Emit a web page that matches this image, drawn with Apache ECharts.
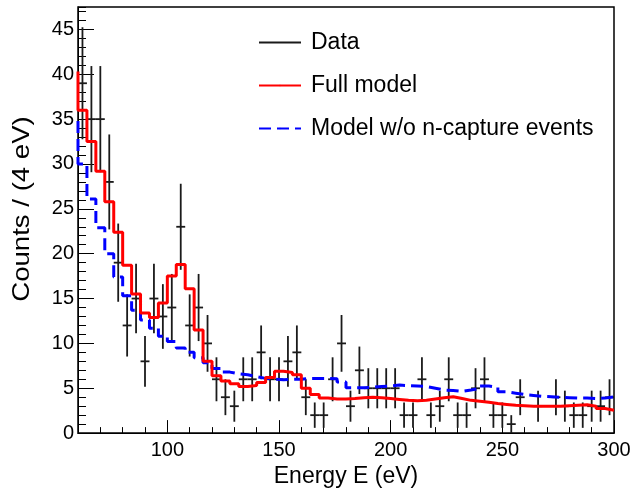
<!DOCTYPE html>
<html><head><meta charset="utf-8">
<script src="https://cdn.jsdelivr.net/npm/echarts@6/dist/echarts.min.js"></script>
<style>html,body{margin:0;padding:0;background:#fff}#c{width:636px;height:493px}</style>
</head><body><div id="c"></div>
<script>
// Energy bin centres (eV), bin width 4 eV
const binWidth = 4;
const binCenters = [62,66,70,74,78,82,86,90,94,98,102,106,110,114,118,122,126,130,134,138,
  142,146,150,154,158,162,166,170,174,178,182,186,190,194,198,202,206,210,214,218,
  222,226,230,234,238,242,246,250,254,258,262,266,270,274,278,282,286,290,294,298];
// Observed counts per bin
const dataCounts = [39,35,35,28,19,12,15,8,15,13,14,23,12,14,10,6,4,3,6,6,
  9,6,6,8,9,4,2,2,6,10,3,7,5,5,5,5,2,2,6,2,
  3,6,2,2,5,6,2,2,1,4,0,3,0,4,3,2,2,3,3,4];
// Full model per bin
const fullModelEdge = 40.3;
const fullModel = [36.0,32.5,29.2,25.8,22.4,18.7,15.5,13.4,12.9,14.5,17.5,18.8,16.1,11.5,8.0,6.4,5.8,5.5,5.2,5.3,
  5.65,6.2,6.9,6.75,6.5,5.0,4.3,3.9,3.8,3.8,3.85,3.95,4.0,3.95,3.85,3.75,3.65,3.6,3.65,3.8,
  3.95,4.05,3.85,3.65,3.55,3.45,3.3,3.2,3.1,3.05,3.0,3.0,3.0,3.0,3.05,3.1,3.15,3.0,2.75,2.55];
// Model without n-capture events per bin
const noCaptureEdge = 34.8;
const noCaptureModel = [30.0,26.1,22.9,20.0,17.4,15.3,13.7,12.6,11.7,10.8,10.2,9.5,9.0,8.4,7.85,7.2,6.8,6.6,6.5,6.3,
  6.1,6.0,5.95,6.0,6.0,6.1,6.1,6.1,6.05,5.7,5.05,5.05,5.1,5.2,5.25,5.35,5.3,5.25,5.2,5.0,
  4.8,4.75,4.65,4.8,5.0,5.25,5.1,4.6,4.45,4.3,4.2,4.1,4.05,4.0,3.95,3.9,3.9,3.85,3.9,4.05];
const xTickLabels = [100,150,200,250,300];
const yTitle = 'Counts / (4 eV)';

function stepPoints(edgeVal, vals){
  const pts = [[binCenters[0]-binWidth/2, edgeVal]];
  for (let i=0;i<vals.length;i++) pts.push([binCenters[i]-binWidth/2, vals[i]]);
  pts.push([binCenters[binCenters.length-1]+binWidth/2, vals[vals.length-1]]);
  return pts;
}
const FONT = "'Liberation Sans', Arial, Helvetica, sans-serif";
const chart = echarts.init(document.getElementById('c'), null, {renderer:'canvas'});
chart.setOption({
  animation:false,
  backgroundColor:'#fff',
  textStyle:{fontFamily:FONT},
  grid:{left:78, right:22, top:7, bottom:55, show:true, borderColor:'#000', borderWidth:1.5, containLabel:false},
  graphic:[{
    type:'text', x:22, y:209, rotation:Math.PI/2, scaleX:1.15,
    style:{text:yTitle, fill:'#000', font:"24px 'Liberation Sans', Arial, sans-serif", align:'center', verticalAlign:'middle'}
  }],
  legend:{
    orient:'vertical', left:253, top:26, itemWidth:42, itemHeight:2, itemGap:20,
    selectedMode:false, textStyle:{fontSize:23, color:'#000', fontFamily:FONT, padding:[0,0,0,5]},
    data:[{name:'Data', icon:'rect'}, 'Full model', 'Model w/o n-capture events']
  },
  xAxis:[{
    type:'value', min:60, max:300, interval:10,
    axisLine:{show:true, lineStyle:{color:'#000', width:1}},
    axisTick:{inside:true, length:6, lineStyle:{color:'#000'}},
    axisLabel:{fontSize:20, color:'#000', margin:7, fontFamily:FONT,
      formatter:v => xTickLabels.indexOf(v)>=0 ? String(v) : ''},
    splitLine:{show:false},
    name:'Energy E (eV)', nameLocation:'middle', nameGap:31,
    nameTextStyle:{fontSize:23, color:'#000', fontFamily:FONT}
  },{
    type:'value', min:60, max:300, position:'bottom',
    axisLine:{show:false},
    axisTick:{inside:true, length:13, customValues:xTickLabels, lineStyle:{color:'#000'}},
    axisLabel:{show:false}, splitLine:{show:false}
  }],
  yAxis:[{
    type:'value', min:0, max:47.5, interval:5, position:'left',
    axisLine:{show:true, lineStyle:{color:'#000', width:1}},
    axisTick:{inside:true, length:16, lineStyle:{color:'#000'}},
    axisLabel:{fontSize:20, color:'#000', margin:4, fontFamily:FONT, showMaxLabel:false,
      formatter:v => (v%5===0 && v<=45) ? String(v) : ''},
    splitLine:{show:false}
  },{
    type:'value', min:0, max:47.5, interval:1, position:'left',
    axisLine:{show:false},
    axisTick:{inside:true, length:8, lineStyle:{color:'#000'}},
    axisLabel:{show:false}, splitLine:{show:false}
  }],
  series:[{
    name:'Data', type:'custom', xAxisIndex:0, yAxisIndex:0, z:2,
    itemStyle:{color:'#1a1a1a'},
    data: binCenters.map((c,i)=>[c, dataCounts[i]]),
    renderItem:function(params, api){
      const x = api.value(0), y = api.value(1);
      if (y <= 0) return null;
      const e = Math.sqrt(y);
      const top = api.coord([x, y+e]), bot = api.coord([x, Math.max(0, y-e)]);
      const l = api.coord([x-binWidth/2, y]), r = api.coord([x+binWidth/2, y]);
      const st = {stroke:'#1a1a1a', lineWidth:1.8};
      return {type:'group', children:[
        {type:'line', shape:{x1:top[0],y1:top[1],x2:bot[0],y2:bot[1]}, style:st},
        {type:'line', shape:{x1:l[0],y1:l[1],x2:r[0],y2:r[1]}, style:st}
      ]};
    }
  },{
    name:'Model w/o n-capture events', type:'line', step:'end', symbol:'none', z:3,
    data: stepPoints(noCaptureEdge, noCaptureModel),
    lineStyle:{color:'#0000ff', width:3, type:[12,6]}, itemStyle:{color:'#0000ff'}
  },{
    name:'Full model', type:'line', step:'end', symbol:'none', z:4,
    data: stepPoints(fullModelEdge, fullModel),
    lineStyle:{color:'#ff0000', width:3}, itemStyle:{color:'#ff0000'}
  }]
});
</script></body></html>
